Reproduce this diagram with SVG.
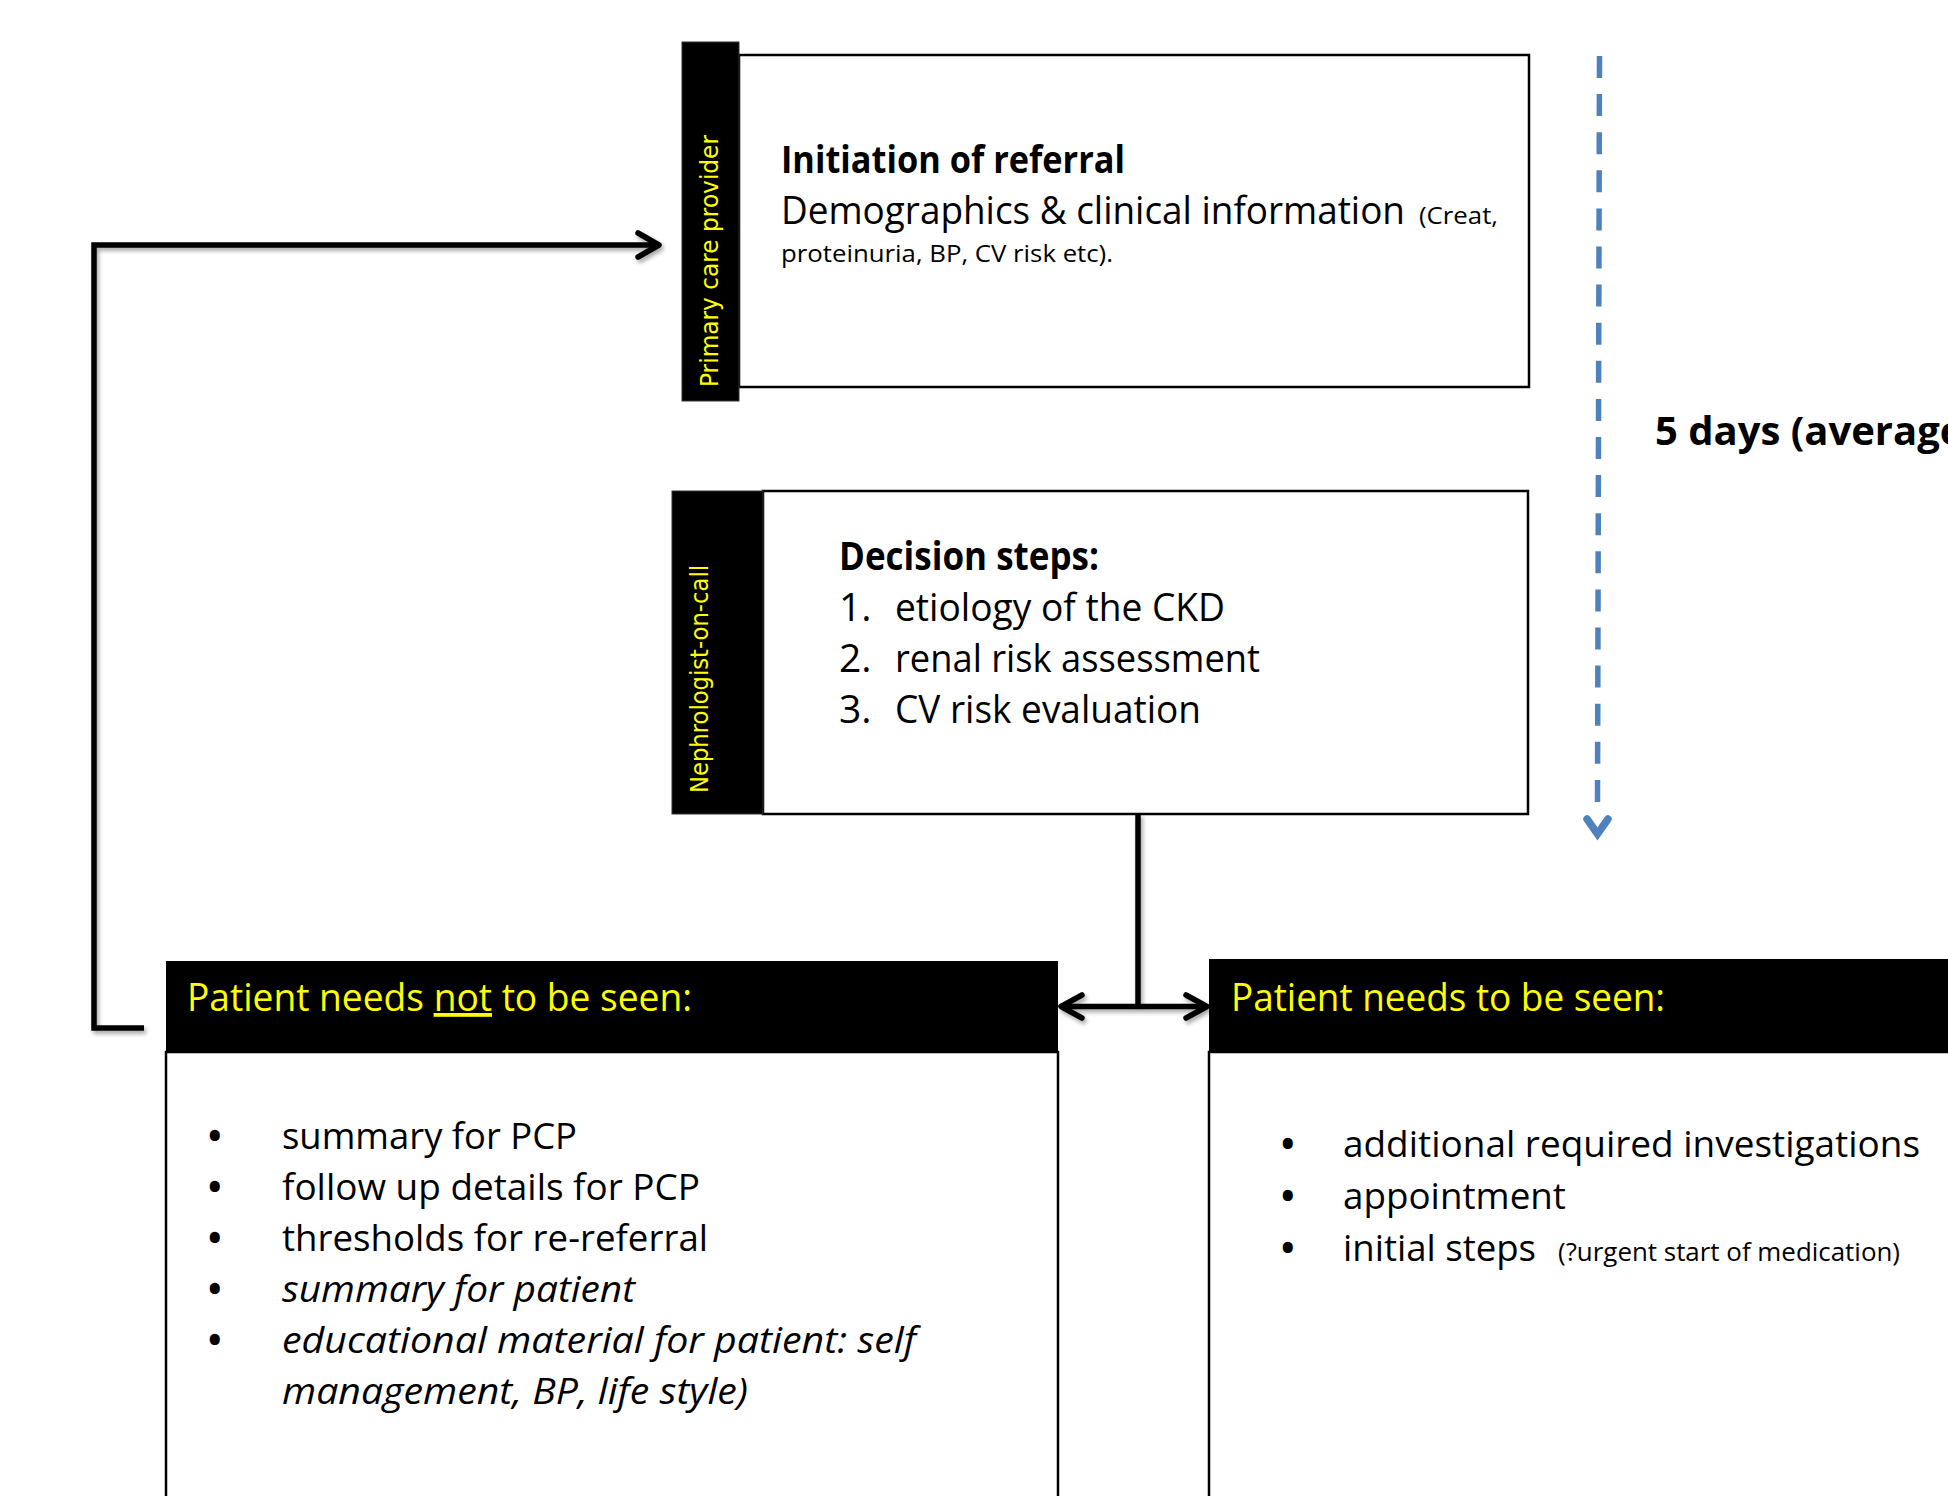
<svg xmlns="http://www.w3.org/2000/svg" width="1948" height="1496" viewBox="0 0 1948 1496">
<style>
.t{font-family:"Open Sans","DejaVu Sans",sans-serif;fill:#000}
.b{font-weight:bold}
.i{font-style:italic}
.y{fill:#FFFF00}
.v{font-family:"DejaVu Sans","Open Sans",sans-serif;font-size:24px;fill:#FFFF00}
.box{fill:#fff;stroke:#000;stroke-width:2.5}
.bar{fill:#000;stroke:#333;stroke-width:1}
.con{fill:none;stroke:#000;stroke-width:5.5}
.chev{fill:none;stroke:#000;stroke-width:5.5;stroke-linecap:round;stroke-linejoin:round}
</style>
<defs>
<filter id="sh" x="-10%" y="-10%" width="120%" height="120%">
<feDropShadow dx="2" dy="3" stdDeviation="2" flood-color="#000" flood-opacity="0.35"/>
</filter>
</defs>
<rect width="1948" height="1496" fill="#fff"/>

<g id="connectors">
<g filter="url(#sh)">
<path class="con" d="M144 1028 L94 1028 L94 245 L657 245"/>
<polyline class="chev" points="638,233 659,245 638,257"/>
<path class="con" d="M1138 814 L1138 1006.5"/>
<path class="con" d="M1062 1006.5 L1206 1006.5"/>
<polyline class="chev" points="1082,995 1061,1006.5 1082,1018"/>
<polyline class="chev" points="1186,995 1207,1006.5 1186,1018"/>
</g>
<line x1="1599.5" y1="56" x2="1597.5" y2="802" stroke="#4F81BD" stroke-width="5.5" stroke-dasharray="22 16.1"/>
<polyline points="1587,819 1597.5,834 1608,819" fill="none" stroke="#4F81BD" stroke-width="7.5" stroke-linejoin="miter" stroke-linecap="round"/>
</g>

<g id="node-referral">
<rect class="box" x="739" y="55" width="790" height="332"/>
<rect class="bar" x="682" y="42" width="57" height="359"/>
<text class="v" transform="translate(718,261) rotate(-90)" text-anchor="middle" textLength="252" lengthAdjust="spacingAndGlyphs">Primary care provider</text>
<text class="t b" x="781" y="173" font-size="38" textLength="344" lengthAdjust="spacingAndGlyphs">Initiation of referral</text>
<text class="t" x="781" y="224" font-size="38" textLength="624" lengthAdjust="spacingAndGlyphs">Demographics &amp; clinical information</text>
<text class="t" x="1419" y="224" font-size="24" textLength="79" lengthAdjust="spacingAndGlyphs">(Creat,</text>
<text class="t" x="781" y="262" font-size="24" textLength="332" lengthAdjust="spacingAndGlyphs">proteinuria, BP, CV risk etc).</text>
</g>

<g id="node-decision">
<rect class="box" x="763" y="491" width="765" height="323"/>
<rect class="bar" x="672" y="491" width="91" height="323"/>
<text class="v" transform="translate(708,679) rotate(-90)" text-anchor="middle" textLength="228" lengthAdjust="spacingAndGlyphs">Nephrologist-on-call</text>
<text class="t b" x="839" y="570" font-size="39" textLength="260" lengthAdjust="spacingAndGlyphs">Decision steps:</text>
<text class="t" x="839" y="621" font-size="39">1.</text>
<text class="t" x="895" y="621" font-size="39" textLength="330" lengthAdjust="spacingAndGlyphs">etiology of the CKD</text>
<text class="t" x="839" y="672" font-size="39">2.</text>
<text class="t" x="895" y="672" font-size="39" textLength="365" lengthAdjust="spacingAndGlyphs">renal risk assessment</text>
<text class="t" x="839" y="723" font-size="39">3.</text>
<text class="t" x="895" y="723" font-size="39" textLength="306" lengthAdjust="spacingAndGlyphs">CV risk evaluation</text>
</g>

<g id="node-not-seen">
<rect class="box" x="166" y="1052" width="892" height="460"/>
<rect x="166" y="961" width="892" height="91" fill="#000"/>
<text class="t y" x="187" y="1011" font-size="38" textLength="505" lengthAdjust="spacingAndGlyphs">Patient needs <tspan text-decoration="underline">not</tspan> to be seen:</text>
<g class="t b" font-size="36">
<text x="208" y="1149">•</text>
<text x="208" y="1200">•</text>
<text x="208" y="1251">•</text>
<text x="208" y="1302">•</text>
<text x="208" y="1353">•</text>
</g>
<text class="t" x="282" y="1149" font-size="37" textLength="295" lengthAdjust="spacingAndGlyphs">summary for PCP</text>
<text class="t" x="282" y="1200" font-size="37" textLength="418" lengthAdjust="spacingAndGlyphs">follow up details for PCP</text>
<text class="t" x="282" y="1251" font-size="37" textLength="426" lengthAdjust="spacingAndGlyphs">thresholds for re-referral</text>
<text class="t i" x="282" y="1302" font-size="37" textLength="353" lengthAdjust="spacingAndGlyphs">summary for patient</text>
<text class="t i" x="282" y="1353" font-size="37" textLength="634" lengthAdjust="spacingAndGlyphs">educational material for patient: self</text>
<text class="t i" x="282" y="1404" font-size="37" textLength="466" lengthAdjust="spacingAndGlyphs">management, BP, life style)</text>
</g>

<g id="node-seen">
<rect class="box" x="1209" y="1052" width="760" height="460"/>
<rect x="1209" y="959" width="760" height="93" fill="#000"/>
<text class="t y" x="1231" y="1011" font-size="38" textLength="434" lengthAdjust="spacingAndGlyphs">Patient needs to be seen:</text>
<g class="t b" font-size="36">
<text x="1281" y="1157">•</text>
<text x="1281" y="1209">•</text>
<text x="1281" y="1261">•</text>
</g>
<text class="t" x="1343" y="1157" font-size="37" textLength="577" lengthAdjust="spacingAndGlyphs">additional required investigations</text>
<text class="t" x="1343" y="1209" font-size="37" textLength="223" lengthAdjust="spacingAndGlyphs">appointment</text>
<text class="t" x="1343" y="1261" font-size="37" textLength="193" lengthAdjust="spacingAndGlyphs">initial steps</text>
<text class="t" x="1558" y="1261" font-size="25" textLength="342" lengthAdjust="spacingAndGlyphs">(?urgent start of medication)</text>
</g>

<g id="label-duration">
<text class="t b" x="1655" y="445" font-size="40">5 days (average</text>
</g>
</svg>
